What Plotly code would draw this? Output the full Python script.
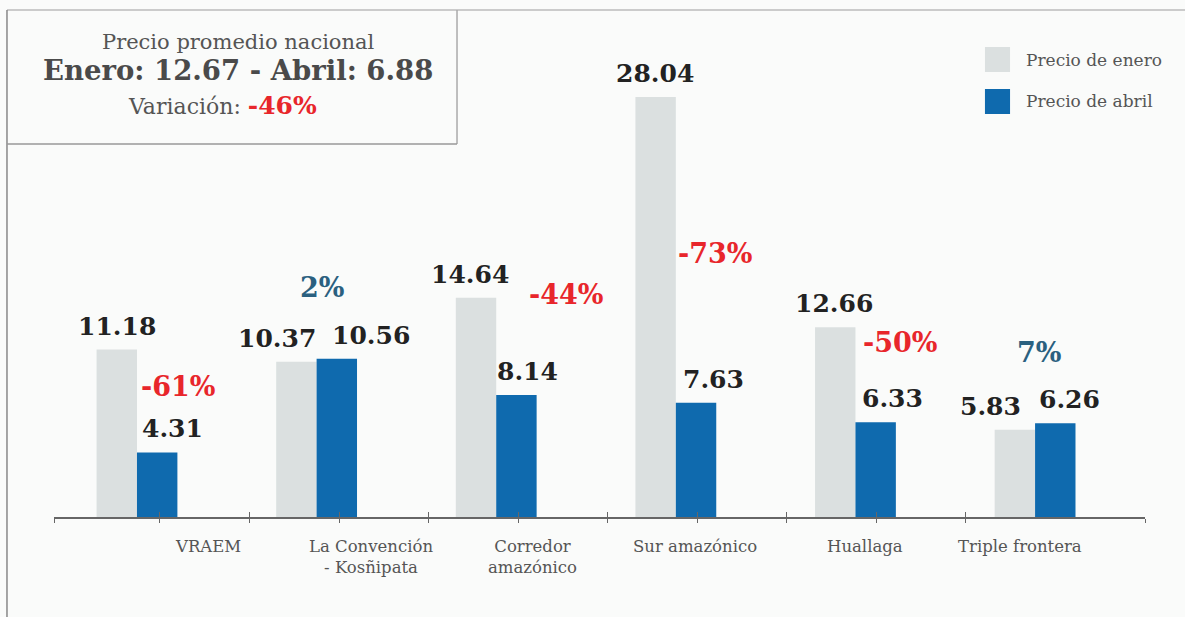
""" Precio promedio por zona: enero vs abril """
import plotly.graph_objects as go

# Datos
zonas = ['VRAEM', 'La Convención<br>- Kosñipata', 'Corredor<br>amazónico',
         'Sur amazónico', 'Huallaga', 'Triple frontera']
precio_enero = [11.18, 10.37, 14.64, 28.04, 12.66, 5.83]
precio_abril = [4.31, 10.56, 8.14, 7.63, 6.33, 6.26]
variacion = ['-61%', '2%', '-44%', '-73%', '-50%', '7%']
nombres_series = ['Precio de enero', 'Precio de abril']

# Colores y tipografia
GRIS = '#dbe0e0'
AZUL = '#0f6aae'
ROJO = '#e8262b'
AZUL_TXT = '#2a607f'
FONDO = '#fafbfa'
FUENTE = 'DejaVu Serif'

# Ajustes de posicion (a mano, como en el original)
shift_enero = [0, -19, -6, -1, -1, -24]
shift_abril = [15, 34, 11, 17, 17, 14]
pct_dx = [0.23, 0.03, 0.39, 0.22, 0.25, 0.02]
pct_y = [8.74, 15.29, 14.82, 17.56, 11.68, 10.95]
label_dx = [0.395, 0.303, 0.2, 0.106, 0.053, -0.084]

pos = list(range(len(zonas)))

fig = go.Figure()
fig.add_trace(go.Bar(x=pos, y=precio_enero, name=nombres_series[0],
                     marker={'color': GRIS, 'line': {'width': 0}}, hoverinfo='skip'))
fig.add_trace(go.Bar(x=pos, y=precio_abril, name=nombres_series[1],
                     marker={'color': AZUL, 'line': {'width': 0}}, hoverinfo='skip'))
# eje duplicado solo para las marcas hacia arriba
fig.add_trace(go.Scatter(x=[pos[0]], y=[0], xaxis='x2', mode='markers',
                         marker={'opacity': 0}, hoverinfo='skip', showlegend=False))

anotaciones = []
for i in pos:
    anotaciones.append(dict(x=i - 0.1125, y=precio_enero[i], text=f'{precio_enero[i]:.2f}',
                            xanchor='center', yanchor='bottom', yshift=7, xshift=shift_enero[i],
                            showarrow=False, font={'family': FUENTE, 'size': 25, 'color': '#222222',
                                                   'weight': 'bold'}))
    anotaciones.append(dict(x=i + 0.1125, y=precio_abril[i], text=f'{precio_abril[i]:.2f}',
                            xanchor='center', yanchor='bottom', yshift=7, xshift=shift_abril[i],
                            showarrow=False, font={'family': FUENTE, 'size': 25, 'color': '#222222',
                                                   'weight': 'bold'}))
    color_pct = ROJO if variacion[i].startswith('-') else AZUL_TXT
    anotaciones.append(dict(x=i + pct_dx[i], y=pct_y[i], text=variacion[i],
                            xanchor='center', yanchor='middle', showarrow=False,
                            font={'family': FUENTE, 'size': 27, 'color': color_pct,
                                  'weight': 'bold'}))
    anotaciones.append(dict(x=i + label_dx[i], y=-0.034, yref='paper', text=zonas[i],
                            xanchor='center', yanchor='top', showarrow=False,
                            font={'family': FUENTE, 'size': 16.5, 'color': '#555555'}))

# Recuadro con el promedio nacional
anotaciones += [
    dict(x=0.1687, y=0.918, xref='paper', yref='paper', text='Precio promedio nacional',
         showarrow=False, xanchor='center', yanchor='middle', borderpad=0,
         font={'family': FUENTE, 'size': 21, 'color': '#555555'}),
    dict(x=0.1687, y=0.8646, xref='paper', yref='paper', text='<b>Enero: 12.67 - Abril: 6.88</b>',
         showarrow=False, xanchor='center', yanchor='middle', borderpad=0,
         font={'family': FUENTE, 'size': 27.5, 'color': '#4a4a4a'}),
    dict(x=0.154, y=0.795, xref='paper', yref='paper',
         text=f'Variación: <b><span style="color:{ROJO};font-size:25px">-46%</span></b>',
         showarrow=False, xanchor='center', yanchor='middle',
         font={'family': FUENTE, 'size': 22, 'color': '#555555'}),
]
# Leyenda manual
for k, (nombre, color) in enumerate(zip(nombres_series, [GRIS, AZUL])):
    anotaciones.append(dict(x=0.8891, y=0.884 - k * 0.0794, xref='paper', yref='paper',
                            text=nombre, showarrow=False, xanchor='left', yanchor='middle',
                            font={'family': FUENTE, 'size': 17, 'color': '#555555'}))

formas = [
    # marco general
    dict(type='line', xref='paper', yref='paper', x0=-0.0431, x1=1.04, y0=0.9807, y1=0.9807,
         line={'color': '#bbbbbb', 'width': 1.5}),
    dict(type='line', xref='paper', yref='paper', x0=-0.0431, x1=-0.0431, y0=0.9807, y1=-0.2,
         line={'color': '#888888', 'width': 1.5}),
    # recuadro
    dict(type='line', xref='paper', yref='paper', x0=0.3694, x1=0.3694, y0=0.9807, y1=0.7215,
         line={'color': '#aaaaaa', 'width': 1.5}),
    dict(type='line', xref='paper', yref='paper', x0=-0.0431, x1=0.3694, y0=0.7215, y1=0.7215,
         line={'color': '#999999', 'width': 1.5}),
]
for k, color in enumerate([GRIS, AZUL]):
    formas.append(dict(type='rect', xref='paper', yref='paper', x0=0.8533, x1=0.8763,
                       y0=0.9091 - k * 0.0812, y1=0.8607 - k * 0.0812,
                       fillcolor=color, line={'width': 0}))

tick_vals = [-0.462] + [0.128 + 0.4985 * k for k in range(10)] + [5.612]
eje_x = dict(range=[-0.462, 5.612], showgrid=False, zeroline=False, showline=True,
             linecolor='#666666', linewidth=1.5, ticks='outside', ticklen=4,
             tickcolor='#666666', tickwidth=1.2, tickmode='array', tickvals=tick_vals,
             showticklabels=False, fixedrange=True)

fig.update_layout(
    width=1185, height=617,
    margin={'l': 54, 'r': 40, 't': 0, 'b': 100},
    paper_bgcolor=FONDO, plot_bgcolor=FONDO,
    barmode='group', bargap=0.55, bargroupgap=0,
    showlegend=False,
    xaxis=eje_x,
    xaxis2=dict(eje_x, overlaying='x', anchor='y', side='bottom', ticks='inside',
                ticklen=5, showline=False),
    yaxis={'range': [0, 34.51], 'visible': False, 'fixedrange': True},
    annotations=anotaciones,
    shapes=formas,
)

fig.write_html('out.html', config={'displayModeBar': False},
               post_script="document.body.style.margin='0';")
